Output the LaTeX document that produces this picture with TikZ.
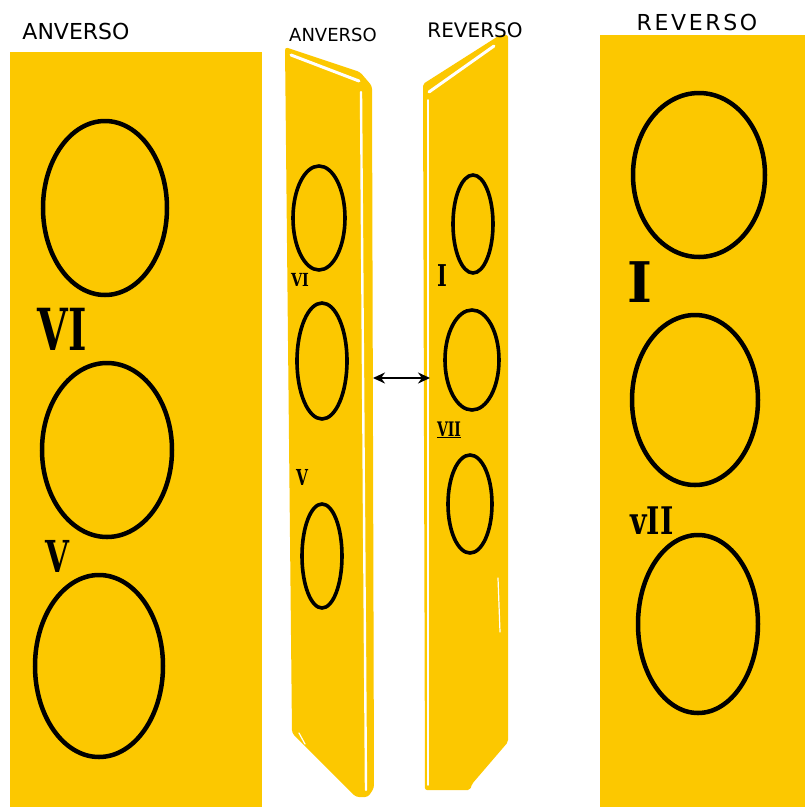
\documentclass[tikz,border=0pt]{standalone}
\usepackage{fontspec}
\setmainfont{DejaVu Sans}
\newfontfamily\numfont{DejaVu Serif}
\usepackage{tikz}
\usetikzlibrary{arrows.meta, positioning}
\definecolor{oro}{RGB}{252,200,0}

\tikzset{
  coin/.style={line width=4.5pt},
  slimcoin/.style={line width=3.6pt},
  facetitle/.style={font=\fontsize{#1}{#1}\selectfont, inner sep=0pt},
  numeral/.style={font=\numfont\bfseries\fontsize{#1}{#1}\selectfont, inner sep=0pt},
  shine/.style={white, line width=#1, line cap=round, line join=round},
}

\begin{document}
\begin{tikzpicture}[x=1pt, y=-1pt]
  \useasboundingbox (0,0) rectangle (805,807);
  % the two flat faces
  \fill[oro] (10,52) rectangle (262,807);
  \fill[oro] (600,35) rectangle (805,807);
  % the two faces seen from the edge
  \fill[oro, rounded corners=3pt] (285,47) -- (360,72) -- (372,86) -- (374,788)
    -- (368,797) -- (356,797) -- (292,733) -- cycle;
  \fill[oro, rounded corners=2pt] (423,84) -- (500,35) -- (508,35) -- (508,742)
    -- (472,784) -- (470,790) -- (425,790) -- cycle;
  \draw[shine=3pt] (291,55) -- (359,81);
  \draw[shine=2.4pt] (361,92) -- (366,790);
  \draw[shine=3pt] (429,92) -- (494,46);
  \draw[shine=1.6pt] (428,100) -- (428,785);
  \draw[shine=1.2pt] (498,578) -- (500,632);
  \draw[shine=1.2pt] (299,733) -- (305,744);
  % coins
  \foreach \cx/\cy/\rx/\ry in {105/208/62/87, 107/450/65/87, 99/666/64/91,
                               699/175/66/82, 695/400/63/85, 698/624/60/89}
    \draw[coin] (\cx,\cy) ellipse [x radius=\rx pt, y radius=\ry pt];
  \foreach \cx/\cy/\rx/\ry in {319/218/26/52, 322/361/25/58, 322/556/20/52,
                               473/224/20/49, 472/360/27/50, 470/504/22/49}
    \draw[slimcoin] (\cx,\cy) ellipse [x radius=\rx pt, y radius=\ry pt];
  % titles
  \node[facetitle=22] (titleA) at (76,31) {ANVERSO};
  \node[facetitle=18] (titleB) at (333,35) {ANVERSO};
  \node[facetitle=20] (titleC) at (475,30) {REVERSO};
  \node[facetitle=22] (titleD) at (697,22) {\addfontfeature{LetterSpace=12}REVERSO};
  % numerals
  \node[numeral=58] (numVI) at (62,329) {\scalebox{0.68}[1]{VI}};
  \node[numeral=44] (numV) at (57,556) {\scalebox{0.7}[1]{V}};
  \node[numeral=56] (numI) at (640,282) {\scalebox{0.95}[1]{I}};
  \node[numeral=38] (numVII) at (652,521) {\scalebox{0.75}[1]{vII}};
  \node[numeral=18] (numvi) at (300,280) {\scalebox{0.8}[1]{VI}};
  \node[numeral=22] (numv) at (302,477) {\scalebox{0.7}[1]{V}};
  \node[numeral=30] (numi) at (442,276) {\scalebox{0.7}[1]{I}};
  \node[numeral=20] (numvii) at (449,430) {\scalebox{0.7}[1]{\underline{VII}}};
  % edge to edge
  \coordinate (gapL) at (373,378);
  \coordinate (gapR) at (430,378);
  \draw[{Stealth[length=12pt, width=11pt]}-{Stealth[length=12pt, width=11pt]},
        line width=2.2pt] (gapL) -- (gapR);
\end{tikzpicture}
\end{document}
